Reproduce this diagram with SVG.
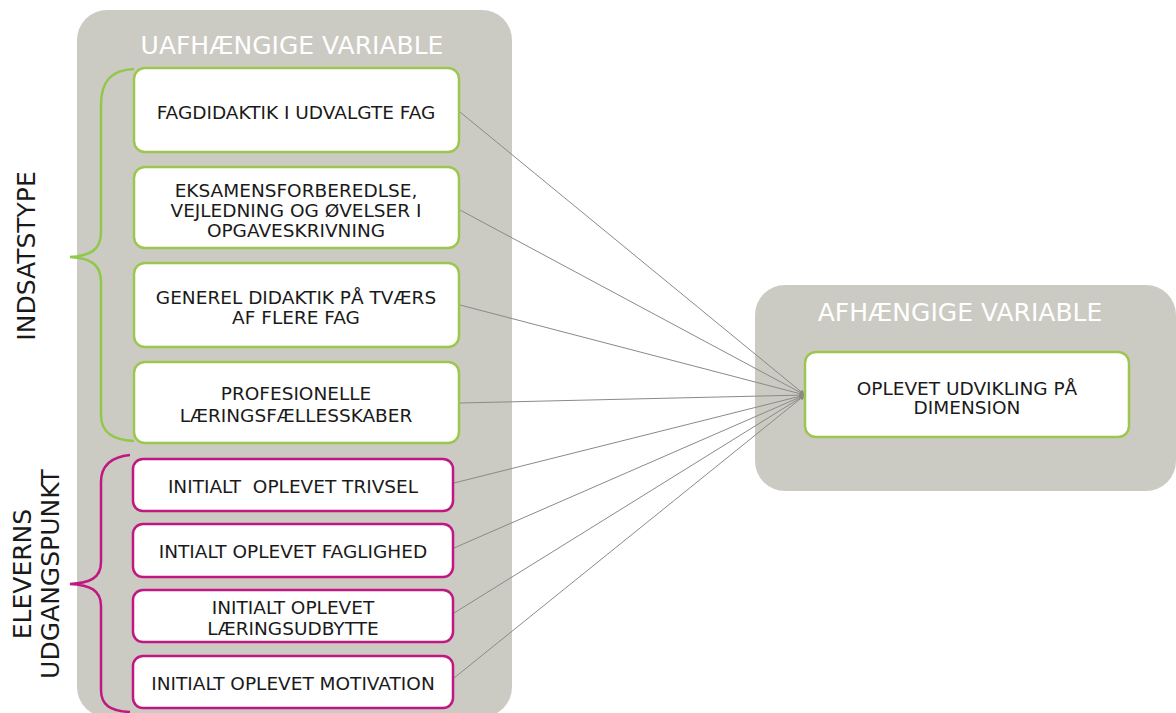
<svg xmlns="http://www.w3.org/2000/svg" width="1176" height="713" viewBox="0 0 1176 713">
<defs>
<style>
.panel{fill:#cccbc3}
.gbox{fill:#fff;stroke:#9dc651;stroke-width:2.5}
.mbox{fill:#fff;stroke:#c01781;stroke-width:2.5}
.t{font-family:"DejaVu Sans",Verdana,sans-serif;font-size:18.5px;fill:#1a1a1a;text-anchor:middle}
.h{font-family:"DejaVu Sans",Verdana,sans-serif;font-size:25px;fill:#ffffff;text-anchor:middle}
.side{font-family:"DejaVu Sans",Verdana,sans-serif;font-size:25px;fill:#1a1a1a;text-anchor:middle}
.conn{stroke:#8a8a85;stroke-width:1;fill:none;marker-end:url(#arr)}
.gbrace{fill:none;stroke:#8fc84a;stroke-width:2.5}
.mbrace{fill:none;stroke:#c01781;stroke-width:2.5}
</style>
<marker id="arr" viewBox="0 0 10 10" refX="9" refY="5" markerWidth="6" markerHeight="6" orient="auto" markerUnits="userSpaceOnUse">
<path d="M0,1 L10,5 L0,9 z" fill="#8a8a85"/>
</marker>
</defs>

<g id="panel-left">
<rect class="panel" x="77" y="10" width="435" height="707" rx="30"/>
<text class="h" x="292" y="54">UAFHÆNGIGE VARIABLE</text>
</g>
<g id="panel-right">
<rect class="panel" x="755" y="285" width="421" height="206" rx="30"/>
<text class="h" x="960" y="321">AFHÆNGIGE VARIABLE</text>
</g>

<g id="brace-indsatstype">
<path class="gbrace" d="M134,69 C112,70 101,80 101,105 L101,232 C101,250 90,256 70,257 C90,258 101,264 101,282 L101,415 C101,432 112,440 134,441"/>
<text class="side" transform="translate(35,256) rotate(-90)">INDSATSTYPE</text>
</g>
<g id="brace-elevens">
<path class="mbrace" d="M130,455 C110,457 101,466 101,482 L101,562 C101,578 90,583 70,584 C90,585 101,590 101,606 L101,690 C101,705 110,711 130,712"/>
<text class="side" transform="translate(31,574) rotate(-90)">ELEVERNS</text>
<text class="side" transform="translate(59,574) rotate(-90)">UDGANGSPUNKT</text>
</g>

<g id="connectors">
<line class="conn" x1="460" y1="112" x2="805" y2="395"/>
<line class="conn" x1="460" y1="210" x2="805" y2="395"/>
<line class="conn" x1="460" y1="305" x2="805" y2="395"/>
<line class="conn" x1="460" y1="403" x2="805" y2="395"/>
<line class="conn" x1="454" y1="483" x2="805" y2="395"/>
<line class="conn" x1="454" y1="548" x2="805" y2="395"/>
<line class="conn" x1="454" y1="613" x2="805" y2="395"/>
<line class="conn" x1="454" y1="678" x2="805" y2="395"/>
</g>

<g id="n1">
<rect class="gbox" x="134" y="68" width="325" height="84" rx="11"/>
<text class="t" x="296" y="119">FAGDIDAKTIK I UDVALGTE FAG</text>
</g>
<g id="n2">
<rect class="gbox" x="134" y="167" width="325" height="81" rx="11"/>
<text class="t" x="296" y="197">EKSAMENSFORBEREDLSE,</text>
<text class="t" x="296" y="217">VEJLEDNING OG ØVELSER I</text>
<text class="t" x="296" y="237">OPGAVESKRIVNING</text>
</g>
<g id="n3">
<rect class="gbox" x="134" y="263" width="325" height="84" rx="11"/>
<text class="t" x="296" y="304">GENEREL DIDAKTIK PÅ TVÆRS</text>
<text class="t" x="296" y="324">AF FLERE FAG</text>
</g>
<g id="n4">
<rect class="gbox" x="134" y="362" width="325" height="81" rx="11"/>
<text class="t" x="296" y="400">PROFESIONELLE</text>
<text class="t" x="296" y="422">LÆRINGSFÆLLESSKABER</text>
</g>
<g id="n5">
<rect class="mbox" x="133" y="459" width="320" height="52" rx="10"/>
<text class="t" x="293" y="493" xml:space="preserve">INITIALT  OPLEVET TRIVSEL</text>
</g>
<g id="n6">
<rect class="mbox" x="133" y="524" width="320" height="53" rx="10"/>
<text class="t" x="293" y="558">INTIALT OPLEVET FAGLIGHED</text>
</g>
<g id="n7">
<rect class="mbox" x="133" y="590" width="320" height="52" rx="10"/>
<text class="t" x="293" y="614">INITIALT OPLEVET</text>
<text class="t" x="293" y="635">LÆRINGSUDBYTTE</text>
</g>
<g id="n8">
<rect class="mbox" x="133" y="656" width="320" height="52" rx="10"/>
<text class="t" x="293" y="690">INITIALT OPLEVET MOTIVATION</text>
</g>
<g id="n9">
<rect class="gbox" x="805" y="352" width="324" height="85" rx="11"/>
<text class="t" x="967" y="395">OPLEVET UDVIKLING PÅ</text>
<text class="t" x="967" y="414">DIMENSION</text>
</g>
</svg>
